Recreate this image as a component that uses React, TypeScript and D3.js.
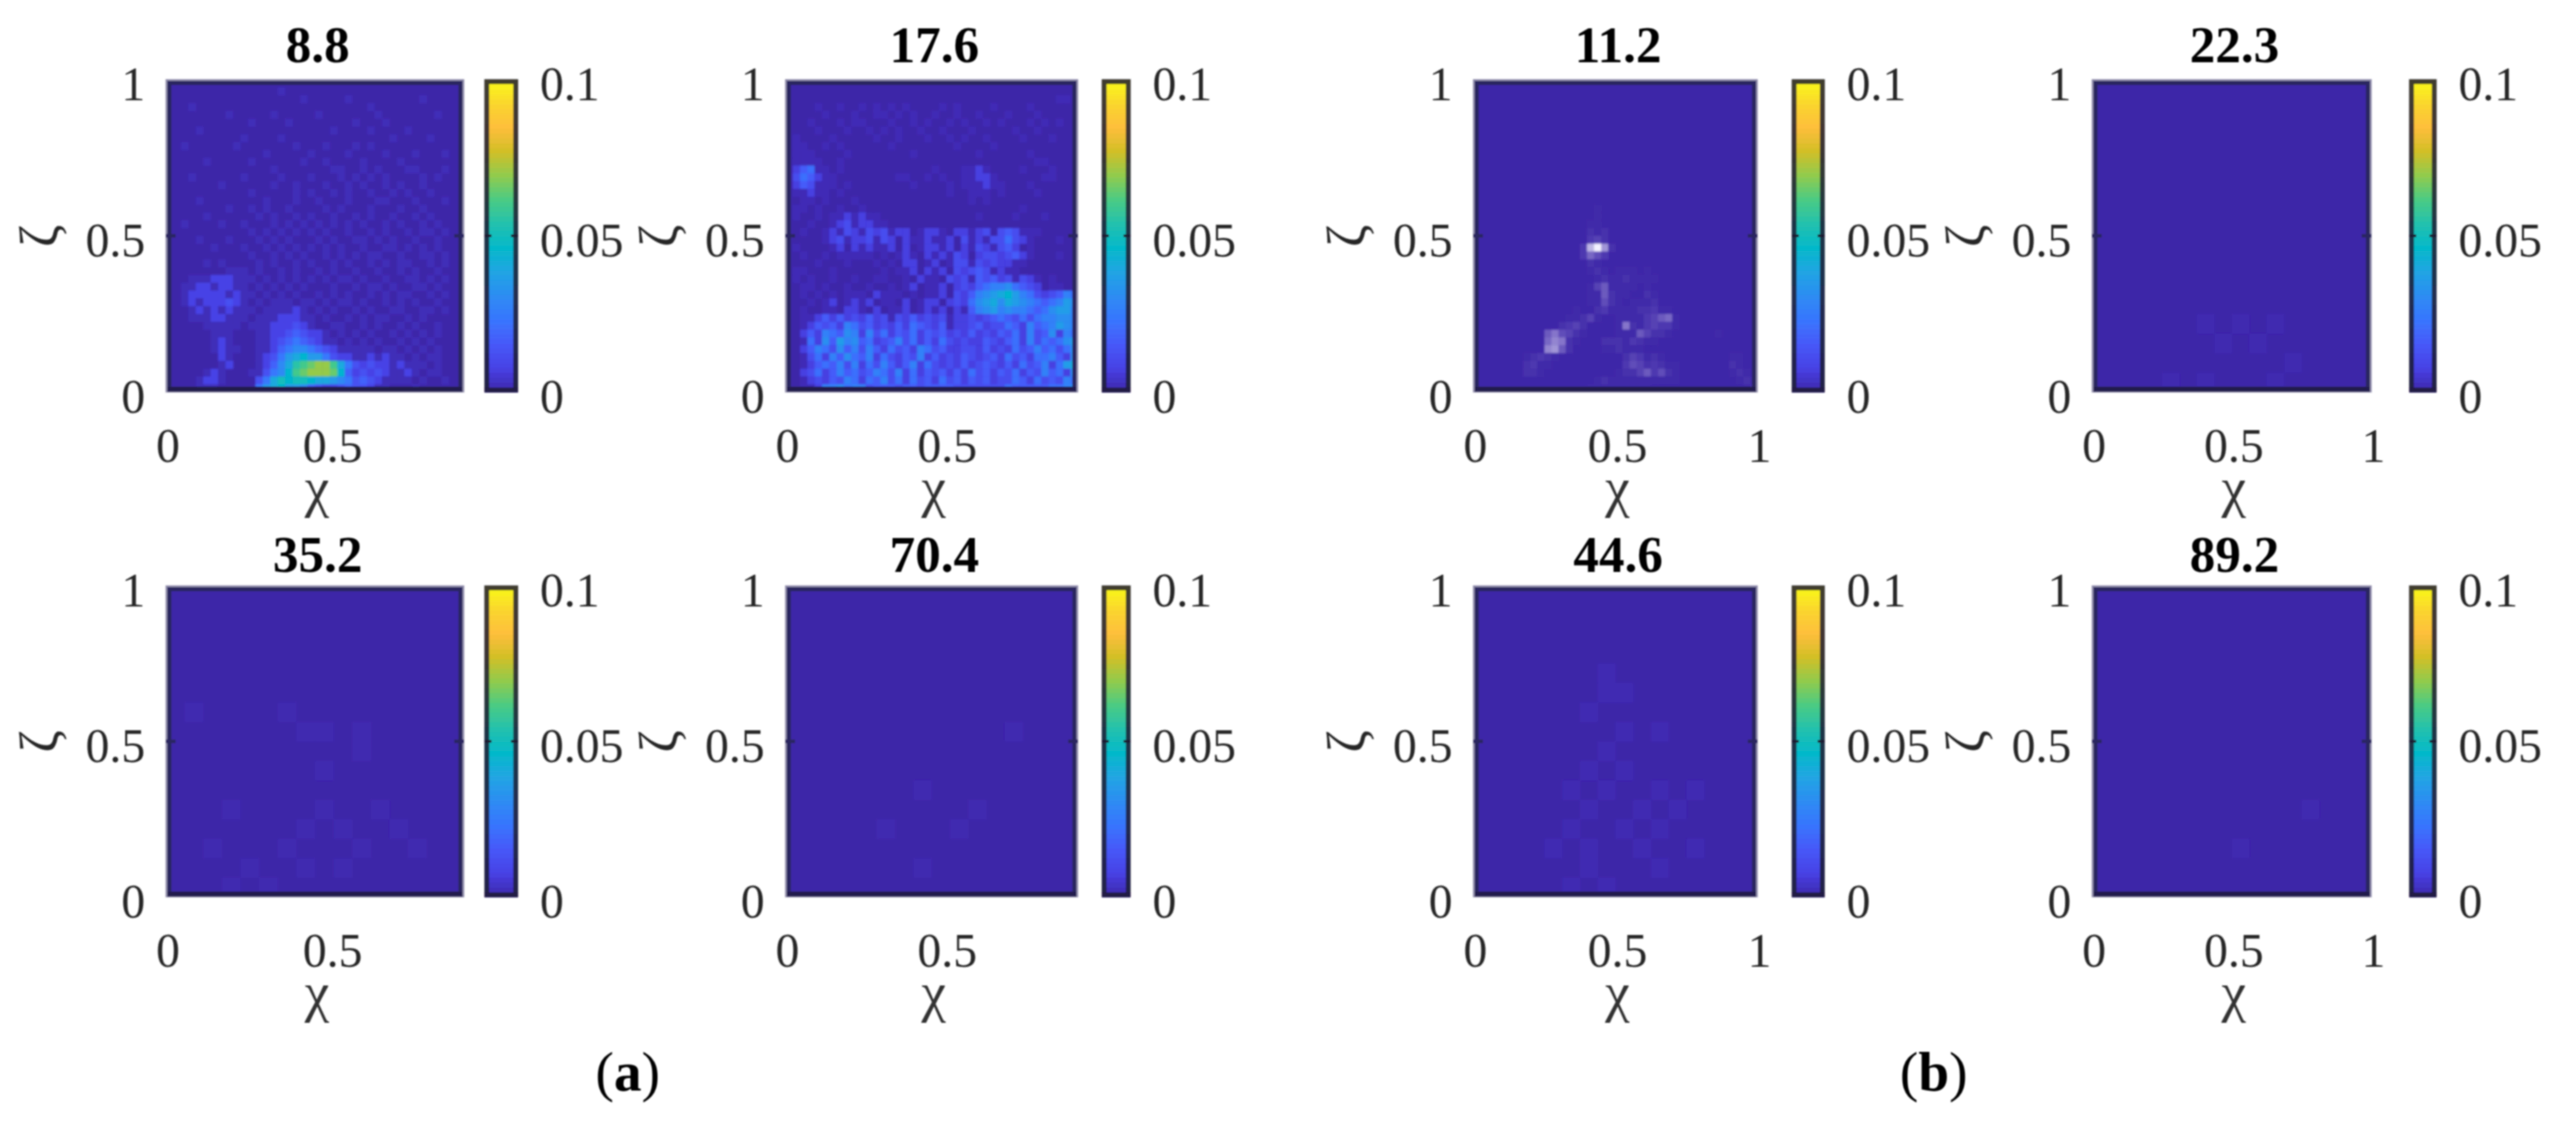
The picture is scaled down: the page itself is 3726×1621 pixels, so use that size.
import React from "react";
import * as d3 from "d3";

// ---------- data ----------
const titles = ["8.8", "17.6", "11.2", "22.3", "35.2", "70.4", "44.6", "89.2"];
const xDomainMax = [0.905, 0.915, 1, 1, 0.905, 0.915, 1, 1];
const xTicks = [[0, 0.5], [0, 0.5], [0, 0.5, 1], [0, 0.5, 1], [0, 0.5], [0, 0.5], [0, 0.5, 1], [0, 0.5, 1]];
const yTicks = [0, 0.5, 1];
const barTicks = [0, 0.05, 0.1];
const captions = ["a", "b"];
const parulaStops = [
  [0.2422, 0.1504, 0.6603], [0.2783, 0.2559, 0.8991], [0.2795, 0.3447, 0.9717], [0.2206, 0.4603, 0.9973],
  [0.1764, 0.5499, 0.952], [0.1248, 0.6459, 0.8883], [0.0036, 0.7203, 0.7917], [0.1408, 0.7584, 0.6842],
  [0.2906, 0.7973, 0.5188], [0.5616, 0.7942, 0.3045], [0.8203, 0.7498, 0.1535], [0.9956, 0.7434, 0.2371],
  [0.9786, 0.8386, 0.1766], [0.9769, 0.9839, 0.0805],
];
// value of each hex digit in the grids below
const digitValues = [0, 0.002, 0.008, 0.013, 0.018, 0.024, 0.03, 0.035, 0.04, 0.045, 0.05, 0.055, 0.06, 0.065, 0.07, 0.075];

// hex digit per cell, top row first
const grid88 = [
  "0000000000 0000000000 0000000000 0000000000",
  "0000000000 0000010000 0000000000 0000000000",
  "0000000000 0000000010 0000100000 0000100000",
  "0001000000 0000000000 0000000100 0000000000",
  "0000000010 0000100000 1000000010 0000001000",
  "0000000000 0100001000 0000010001 0000000000",
  "0000100000 0000000000 0010000100 0010000000",
  "0000000000 1000010000 0000000000 1000010000",
  "0010000001 0000000100 0100010100 0000000000",
  "0000000000 0001000001 0000100001 0001000100",
  "0000010000 0100000010 0100001000 0100000000",
  "0000000000 0000100000 0011001010 0011000100",
  "0001000000 1000010001 0001010101 0000101000",
  "0000000100 0000100100 0100101001 0100100000",
  "0000000000 0100000101 0010100100 1010010000",
  "0000100000 0001000100 1000100011 0001000100",
  "0000000010 0101001000 0101000100 0100100000",
  "0000010000 0010100101 0010010100 1001010000",
  "0010000100 1000101010 1010101001 0100101000",
  "0000000000 0101010101 0100100101 0010110100",
  "0000100010 0010101000 1010011010 1001001000",
  "0000001000 1001010101 0101001001 1010101000",
  "0000000000 0100101010 0101010110 0100110100",
  "0000010100 0010100101 0010100101 0110010100",
  "0000000011 1010010100 1010010010 0101001000",
  "0001112221 1101010101 0101101001 0011010100",
  "0011221221 1010101010 0010010110 1001101000",
  "0012222212 1101010100 1010100101 0110010100",
  "0012122232 1010111011 0101101001 0101001000",
  "0001212121 1101111210 1010010100 1100110100",
  "0001112211 1011122211 0100101011 0010100000",
  "0000011111 0111222321 0011001010 0101001000",
  "0000001110 0011223432 2101010100 1010101000",
  "0000001210 0011234543 2110101010 0101010000",
  "0000001211 0011245665 4321111101 1010101000",
  "0000000210 0012357897 7532211212 1101011000",
  "0000000120 0012468bcd eec8532322 1211101000",
  "0000012100 0113569cde eed9423232 1121011000",
  "0000122100 00358a9aa9 8876534321 1110100100",
  "0000111000 0057897764 3223433211 0001000000",
];
const grid176 = [
  "0000000000 0000000000 0000000000 0000000000",
  "0000000000 0000000000 0000000000 0000000000",
  "0000000000 0000000000 0000000000 0000000110",
  "0000100100 1010101000 0101000010 0001000000",
  "0000010001 0011010100 1001001000 1000100000",
  "0001000101 1000100101 0010100101 0001010100",
  "0000100010 0101010010 0100010000 0100100000",
  "0100001000 0010010001 0010100100 0010001000",
  "0110010100 0000100000 0001000010 0000000000",
  "0111000010 0000000100 0000001000 0001000000",
  "0111100100 0000000000 0000000000 0000110000",
  "0245110100 0000000000 1000112100 0010001000",
  "0354211000 0000011001 0100112210 0000011000",
  "0243111010 0000000100 0010111211 0001000000",
  "0112110100 0000000000 0010011101 0000100000",
  "0011010001 0000000000 0000010100 0000000000",
  "0110100100 1000000000 0000000000 0010000000",
  "0100101121 2110000000 0000001000 0100010000",
  "0001001231 2211000000 0000000000 0000000000",
  "0010012132 1323122012 2102212303 4311100000",
  "0000012312 2313202112 1120312133 5321000100",
  "0100001202 1211202012 2120213213 4201000000",
  "0010010111 1101012102 1213202332 3421000100",
  "0000100010 0010102201 2013313232 2110000000",
  "0110001000 0001011202 1203234312 1100000000",
  "0101001001 0011001021 1032314342 3132101000",
  "0011010010 0100101201 1202324566 7543201100",
  "0010101011 1021110101 1203246789 a865323465",
  "0001012012 1201102012 2023257897 9876545687",
  "0010011022 1020112012 1202146786 7665457886",
  "0011242423 2423132423 2312232345 4353566776",
  "0012434265 3423242543 2412234233 5426456876",
  "0024265476 2635243524 3423242324 3526347265",
  "0015274867 4523463524 2532322432 4526354578",
  "0024653746 3642534265 3422332423 2534645357",
  "0013526475 4625324362 4232432342 5342556427",
  "0012454636 2536424625 3232423432 4253462589",
  "0023524645 3465362524 3424253424 3524364527",
  "0012324365 2546352534 2534243423 3542534365",
  "0011266756 6344434434 4443333333 5444445567",
];
const grid112 = [
  "0000000000 0000000000 0000000000 0000000000",
  "0000000000 0000000000 0000000000 0000000000",
  "0000000000 0000000000 0000000000 0000000000",
  "0000000000 0000000000 0000000000 0000000000",
  "0000000000 0000000000 0000000000 0000000000",
  "0000000000 0000000000 0000000000 0000000000",
  "0000000000 0000000000 0000000000 0000000000",
  "0000000000 0000000000 0000000000 0000000000",
  "0000000000 0000000000 0000000000 0000000000",
  "0000000000 0000000000 0000000000 0000000000",
  "0000000000 0000000000 0000000000 0000000000",
  "0000000000 0000000000 0000000000 0000000000",
  "0000000000 0000000000 0000000000 0000000000",
  "0000000000 0000000000 0000000000 0000000000",
  "0000000000 0000000000 0000000000 0000000000",
  "0000000000 0000000000 0000000000 0000000000",
  "0000000000 0000000100 0000000000 0000000000",
  "0000000000 0000000100 0000000000 0000000000",
  "0000000000 0000001100 0000000000 0000000000",
  "0000000000 0000002120 0000000000 0000000000",
  "0000000000 0000003420 0000000000 0000000000",
  "0000000000 000003cfa2 0000000000 0000000000",
  "0000000000 0000037530 0000000000 0000000000",
  "0000000000 0000002100 0000000000 0000000000",
  "0000000000 0000001210 1110100000 0000000000",
  "0000000000 0000000121 1211110000 0000000000",
  "0000000000 0000001461 1110100000 0000000000",
  "0000000000 0000001162 1100210000 0000000000",
  "0000000000 0000001152 1011120000 0000000000",
  "0000000000 0000100231 1112231100 0000000000",
  "0000000000 0001124100 1111346710 0000000000",
  "0000000000 0023420000 1821343310 0000000000",
  "0000000000 6854210000 1116422100 0000100000",
  "0000000000 7982100022 2132110000 0000000000",
  "0000000000 9a62000011 2111000000 0000000000",
  "0000000123 2100000000 0243121000 0000001100",
  "0000000231 1000000000 0354232110 0000002100",
  "0000000221 0000000000 1224635210 0000001210",
  "0000000000 0000000121 1111111110 0000000121",
  "0000000000 0000001111 1111100000 0000000012",
];
const grid223 = [
  "0000000000000000", "0000000000000000", "0000000000000000", "0000000000000000",
  "0000000000000000", "0000000000000000", "0000000000000000", "0000000000000000",
  "0000000000000000", "0000000000000000", "0000000000000000", "0000000000000000",
  "0000001010100000", "0000000101000000", "0000000000010000", "0000101000100000",
];
const grid352 = [
  "0000000000000000", "0000000000000000", "0000000000000000", "0000000000000000",
  "0000000000000000", "0000000000000000", "0100001000000000", "0000000110100000",
  "0000000000100000", "0000000010000000", "0000000000000000", "0001000010010000",
  "0000000101001000", "0010001000100100", "0000100101000000", "0001010000000000",
];
const grid704 = [
  "0000000000000000", "0000000000000000", "0000000000000000", "0000000000000000",
  "0000000000000000", "0000000000000000", "0000000000000000", "0000000000001000",
  "0000000000000000", "0000000000000000", "0000000100000000", "0000000000100000",
  "0000010001000000", "0000000000000000", "0000000100000000", "0000000000000000",
];
const grid446 = [
  "0000000000000000", "0000000000000000", "0000000000000000", "0000000000000000",
  "0000000100000000", "0000000110000000", "0000001000000000", "0000000010100000",
  "0000000100000000", "0000001010000000", "0000010100101000", "0000001001010000",
  "0000010010100000", "0000101001001000", "0000001000100000", "0000010100000000",
];
const grid892 = [
  "0000000000000000", "0000000000000000", "0000000000000000", "0000000000000000",
  "0000000000000000", "0000000000000000", "0000000000000000", "0000000000000000",
  "0000000000000000", "0000000000000000", "0000000000000000", "0000000000001000",
  "0000000000000000", "0000000010000000", "0000000000000000", "0000000000000000",
];
const grids = [grid88, grid176, grid112, grid223, grid352, grid704, grid446, grid892];
const gridGains = [1, 0.9, 1, 0.5, 0.5, 0.5, 0.6, 0.5];
const gridKinds = ["parula", "parula", "washed", "parula", "parula", "parula", "parula", "parula"];

// ---------- layout ----------
const colLeft = [240, 1136, 2131, 3026];
const colRight = [671, 1559, 2542, 3430];
const barLeft = [701, 1594, 2592, 3485];
const barRight = [749, 1635, 2639, 3524];
const rowTop = [115, 847];
const rowBottom = [567, 1297];
const titleBase = [90, 827];
const captionX = [908, 2797];
const captionBase = 1577;
const serif = "'Liberation Serif', serif";
const tickSize = 69;

const parula = d3
  .scaleLinear<string>()
  .domain(parulaStops.map((_, i) => i / (parulaStops.length - 1)))
  .range(parulaStops.map(([r, g, b]) => d3.rgb(r * 255, g * 255, b * 255).formatHex()))
  .interpolate(d3.interpolateRgb);
const valueToUnit = d3.scaleLinear().domain([0, 0.1]).range([0, 1]).clamp(true);
const washed = d3.interpolateRgb(parula(0), "#f4f2ff");
const washedLevel = d3.scalePow().exponent(1.5).domain([0, 15]).range([0, 1]);
const base = parula(0);

const barLevels = d3.range(64);

function Panel({ index }: { index: number }) {
  const c = index % 4;
  const r = Math.floor(index / 4);
  const [x0, x1, y0, y1] = [colLeft[c], colRight[c], rowTop[r], rowBottom[r]];
  const x = d3.scaleLinear().domain([0, xDomainMax[index]]).range([x0, x1]);
  const y = d3.scaleLinear().domain([0, 1]).range([y1, y0]);
  const barY = d3.scaleLinear().domain([0, 0.1]).range([y1, y0]);
  const rows = grids[index].map((s) => s.replace(/ /g, ""));
  const nCols = rows[0].length;
  const colBand = d3.scaleBand<number>().domain(d3.range(nCols)).range([x0, x1]);
  const rowBand = d3.scaleBand<number>().domain(d3.range(rows.length)).range([y0, y1]);
  const colorOf = (d: number) =>
    gridKinds[index] === "washed" ? washed(washedLevel(d)) : parula(valueToUnit(digitValues[d] * gridGains[index]));
  const clipId = `clip${index}`;
  const cx = (x0 + x1) / 2;
  const [bx0, bx1] = [barLeft[c], barRight[c]];
  const barH = (y1 - y0) / barLevels.length;
  return (
    <g>
      <defs>
        <clipPath id={clipId}>
          <rect x={x0} y={y0} width={x1 - x0} height={y1 - y0} />
        </clipPath>
      </defs>
      <g clipPath={`url(#${clipId})`}>
        <rect x={x0} y={y0} width={x1 - x0} height={y1 - y0} fill={base} />
        <g filter="url(#soft)">
          {rows.flatMap((row, ri) =>
            row.split("").map((ch, ci) => {
              const d = parseInt(ch, 16);
              if (!d) return null;
              return (
                <rect
                  key={`${ri}-${ci}`}
                  x={colBand(ci)}
                  y={rowBand(ri)}
                  width={colBand.bandwidth() + 0.5}
                  height={rowBand.bandwidth() + 0.5}
                  fill={colorOf(d)}
                />
              );
            })
          )}
        </g>
      </g>
      {/* frame */}
      <rect x={x0 + 1} y={y0 + 1} width={x1 - x0 - 2} height={y1 - y0 - 2} fill="none" stroke="#8f8cab" strokeWidth={3} />
      <rect x={x0 + 5} y={y0 + 5} width={x1 - x0 - 10} height={y1 - y0 - 10} fill="none" stroke="#2c2560" strokeWidth={6} />
      <line x1={x0 + 2} x2={x1 - 2} y1={y1 - 4} y2={y1 - 4} stroke="#241f4e" strokeWidth={7} />
      {yTicks.slice(1, 2).map((t) => (
        <g key={t} stroke="#2c2560" strokeWidth={5}>
          <line x1={x0} x2={x0 + 14} y1={y(t)} y2={y(t)} />
          <line x1={x1} x2={x1 - 14} y1={y(t)} y2={y(t)} />
        </g>
      ))}
      {/* title */}
      <text x={cx + 4} y={titleBase[r]} textAnchor="middle" fontFamily={serif} fontWeight="bold" fontSize={74} fill="#000">
        {titles[index]}
      </text>
      {/* y ticks */}
      {yTicks.map((t) => (
        <text key={t} x={x0 - 30} y={y(t) + 30} textAnchor="end" fontFamily={serif} fontSize={tickSize} fill="#262626">
          {t}
        </text>
      ))}
      {/* x ticks */}
      {xTicks[index].map((t) => (
        <text key={t} x={x(t) + 3} y={y1 + 101} textAnchor="middle" fontFamily={serif} fontSize={tickSize} fill="#262626">
          {t}
        </text>
      ))}
      {/* axis labels */}
      <text x={cx + 3} y={y1 + 165} textAnchor="middle" fontFamily={serif} fontSize={80} fill="#333">
        χ
      </text>
      <text
        transform={`translate(${x0 - 158},${(y0 + y1) / 2}) rotate(-90)`}
        textAnchor="middle"
        fontFamily={serif}
        fontSize={78}
        fill="#262626"
      >
        ζ
      </text>
      {/* colorbar */}
      <g>
        {barLevels.map((l) => (
          <rect
            key={l}
            x={bx0}
            width={bx1 - bx0}
            y={barY(((l + 1) / barLevels.length) * 0.1)}
            height={barH + 0.6}
            fill={parula((l + 0.5) / barLevels.length)}
          />
        ))}
        <rect x={bx0 + 3} y={y0 + 3} width={bx1 - bx0 - 6} height={y1 - y0 - 6} fill="none" stroke="#1f1d33" strokeWidth={7} opacity={0.85} />
        {barTicks.slice(1, 2).map((t) => (
          <g key={t} stroke="#1f1d33" strokeWidth={4}>
            <line x1={bx0} x2={bx0 + 10} y1={barY(t)} y2={barY(t)} />
            <line x1={bx1} x2={bx1 - 10} y1={barY(t)} y2={barY(t)} />
          </g>
        ))}
      </g>
      {barTicks.map((t) => (
        <text key={t} x={bx1 + 32} y={barY(t) + 30} fontFamily={serif} fontSize={tickSize} fill="#262626">
          {t}
        </text>
      ))}
    </g>
  );
}

export default function App() {
  return (
    <svg
      width={3726}
      height={1621}
      viewBox="0 0 3726 1621"
      style={{ position: "absolute", left: 0, top: 0, display: "block", background: "#fff" }}
    >
      <defs>
        <filter id="soft" x="-5%" y="-5%" width="110%" height="110%">
          <feGaussianBlur stdDeviation={1.2} />
        </filter>
        <filter id="fine" filterUnits="userSpaceOnUse" x={0} y={0} width={3726} height={1621}>
          <feGaussianBlur stdDeviation={0.9} />
        </filter>
      </defs>
      <g filter="url(#fine)">
        {titles.map((_, i) => (
          <Panel key={i} index={i} />
        ))}
        {captions.map((c, i) => (
          <text key={c} x={captionX[i]} y={captionBase} textAnchor="middle" fontFamily={serif} fontSize={80} fill="#000">
            (<tspan fontWeight="bold">{c}</tspan>)
          </text>
        ))}
      </g>
    </svg>
  );
}
